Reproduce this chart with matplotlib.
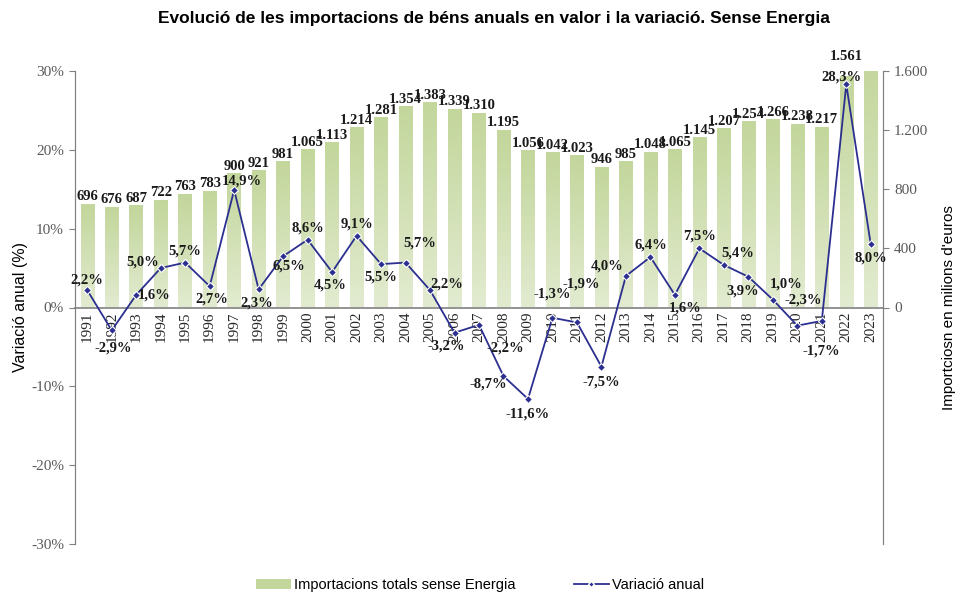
import matplotlib
matplotlib.use("Agg")
import matplotlib.pyplot as plt
import numpy as np
from matplotlib.patches import Patch
from matplotlib.lines import Line2D
from matplotlib.colors import LinearSegmentedColormap

years = [str(y) for y in range(1991, 2024)]
imports = [696, 676, 687, 722, 763, 783, 900, 921, 981, 1065, 1113, 1214, 1281,
           1354, 1383, 1339, 1310, 1195, 1056, 1042, 1023, 946, 985, 1048, 1065,
           1145, 1207, 1254, 1266, 1238, 1217, 1561, 1686]
variation = [2.2, -2.9, 1.6, 5.0, 5.7, 2.7, 14.9, 2.3, 6.5, 8.6, 4.5, 9.1, 5.5,
             5.7, 2.2, -3.2, -2.2, -8.7, -11.6, -1.3, -1.9, -7.5, 4.0, 6.4, 1.6,
             7.5, 5.4, 3.9, 1.0, -2.3, -1.7, 28.3, 8.0]

# label offsets (pixels) for the variation labels – style only
var_offsets = [(0, 10), (2, -18), (18, 0), (-18, 6), (0, 12), (2, -13), (8, 9),
               (-2, -14), (6, -10), (0, 12), (-2, -13), (0, 12), (0, -13),
               (14, 20), (17, 6), (-8, -13), (26, -23), (-15, -8), (0, -15),
               (0, 24), (4, 38), (0, -15), (-19, 10), (0, 12), (10, -13),
               (0, 12), (14, 12), (-6, -14), (13, 16), (6, 26), (0, -30),
               (-5, 7), (0, -14)]
# extra vertical offset (points) for bar value labels – style only
bar_label_extra = {31: 9}

serif = ["Liberation Serif", "DejaVu Serif"]
sans = ["Liberation Sans", "DejaVu Sans"]

fig = plt.figure(figsize=(9.6, 5.98), dpi=100)
L, R, T, B = 75 / 960, 883 / 960, 71 / 598, 544 / 598
ax = fig.add_axes([L, 1 - B, R - L, B - T])
ax2 = ax.twinx()

x = np.arange(len(years))
n = len(years)

# bars on right axis with gradient
green_top = "#c3d69b"
cmap = LinearSegmentedColormap.from_list("g", ["#e2ebd0", "#c3d69b"])
grad = np.linspace(0, 1, 256).reshape(-1, 1)
bars = ax2.bar(x, imports, width=0.55, color="none", edgecolor="none", zorder=1)
for rect in bars:
    x0 = rect.get_x()
    w = rect.get_width()
    h = rect.get_height()
    ax2.imshow(grad, extent=[x0, x0 + w, 0, h], origin="lower", aspect="auto",
               cmap=cmap, clip_path=rect, zorder=1, interpolation="bilinear")

ax2.set_ylim(-1600, 1600)
ax2.set_xlim(-0.5, n - 0.5)
ax2.set_yticks([0, 400, 800, 1200, 1600])
ax2.set_yticklabels(["0", "400", "800", "1.200", "1.600"], fontfamily=serif,
                    fontsize=11, color="#595959")
ax2.tick_params(axis="y", direction="out", length=4, color="#808080", pad=4)
for i, v in enumerate(imports):
    if v <= 1600:
        ax2.annotate(f"{v:,}".replace(",", "."), (x[i], v),
                     xytext=(0, 1 + bar_label_extra.get(i, 0)),
                     textcoords="offset points", ha="center", va="bottom",
                     fontsize=10.5, fontweight="bold", fontfamily=serif,
                     color="#1a1a1a", zorder=3, annotation_clip=False)

# line on left axis
ax.set_zorder(ax2.get_zorder() + 1)
ax.patch.set_visible(False)
navy = "#2b2f8f"
ax.plot(x, variation, color=navy, lw=1.3, marker="D", ms=4.5,
        markerfacecolor=navy, markeredgecolor="white", markeredgewidth=0.8,
        zorder=5)
for i, v in enumerate(variation):
    dx, dy = var_offsets[i]
    ax.annotate(f"{v:.1f}%".replace(".", ","), (x[i], v), xytext=(dx, dy),
                textcoords="offset pixels", ha="center", va="center",
                fontsize=10.5, fontweight="bold", fontfamily=serif,
                color="#1a1a1a", zorder=6)

ax.set_ylim(-30, 30)
ax.set_xlim(-0.5, n - 0.5)
ax.set_yticks([-30, -20, -10, 0, 10, 20, 30])
ax.set_yticklabels(["-30%", "-20%", "-10%", "0%", "10%", "20%", "30%"],
                   fontfamily=serif, fontsize=11, color="#595959")
ax.tick_params(axis="y", direction="out", length=4, color="#808080", pad=4)

# x axis at zero
ax.spines["bottom"].set_position(("data", 0))
ax.spines["bottom"].set_color("#808080")
ax.spines["bottom"].set_linewidth(1.2)
ax.set_xticks(np.arange(-0.5, n, 1.0))
ax.set_xticklabels([])
ax.tick_params(axis="x", which="major", direction="out", length=5,
               color="#808080")
ax.set_xticks(x, minor=True)
ax.set_xticklabels(years, minor=True, rotation=90, fontfamily=serif,
                   fontsize=11, color="#262626")
ax.tick_params(axis="x", which="minor", length=0, pad=3)

for a in (ax, ax2):
    a.spines["top"].set_visible(False)
    a.spines["left"].set_color("#808080")
    a.spines["right"].set_color("#808080")
ax2.spines["bottom"].set_visible(False)
ax2.set_xticks([])

ax.set_ylabel("Variació anual (%)", fontfamily=sans, fontsize=11.5,
              color="#000000", labelpad=2)
ax2.set_ylabel("Importciosn en milions d'euros", fontfamily=sans,
               fontsize=11, color="#000000", labelpad=10)

fig.suptitle("Evolució de les importacions de béns anuals en valor i la variació. Sense Energia",
             x=0.514, y=0.982, fontsize=12.5, fontweight="bold", fontfamily=sans)

handles = [Patch(facecolor=green_top, edgecolor="none"),
           Line2D([0], [0], color=navy, lw=1.3, marker="D", ms=3,
                  markerfacecolor=navy, markeredgecolor="white")]
fig.legend(handles, ["Importacions totals sense Energia", "Variació anual"],
           loc="lower center", bbox_to_anchor=(0.5, -0.012), ncol=2,
           frameon=False, prop={"family": sans, "size": 10.5},
           handlelength=2.4, handletextpad=0.2, columnspacing=4)

fig.savefig("out.png", dpi=100)
